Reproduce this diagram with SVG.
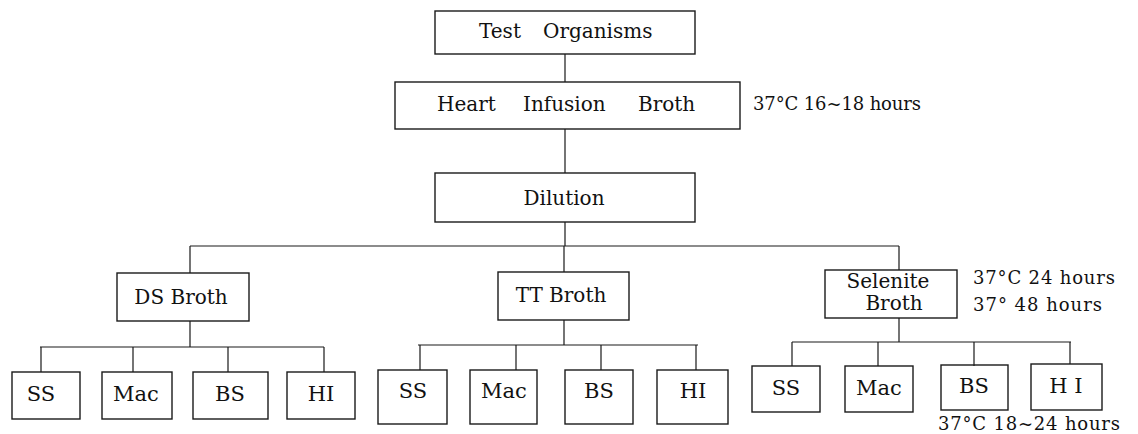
<svg xmlns="http://www.w3.org/2000/svg" width="1138" height="434" viewBox="0 0 1138 434">
<style>
.box{fill:none;stroke:#1a1a1a;stroke-width:1.4}
.ln{fill:none;stroke:#1a1a1a;stroke-width:1.2}
.t{font-family:"DejaVu Serif","Liberation Serif",serif;font-size:20px;fill:#111}
.s{font-size:21px}
.c{text-anchor:middle}
.a{font-family:"DejaVu Serif","Liberation Serif",serif;font-size:18px;fill:#111}
</style>
<rect width="1138" height="434" fill="#fff"/>
<g id="connectors">
<path class="ln" d="M565 54V82M565 129V173M565 222V246M190 246H899M190 246V273M564 246V272M899 246V270"/>
<path class="ln" d="M190 321V347M40 347H324M41 347V372M133 347V372M228 347V372M324 347V372"/>
<path class="ln" d="M564 320V345M418 345H698M420 345V370M516 345V370M601 345V370M696 345V370"/>
<path class="ln" d="M899 318V342M792 342H1071M792 342V366M878 342V366M974 342V366M1070 342V364"/>
</g>
<g id="test-organisms"><rect class="box" x="435" y="11" width="260" height="43"/><text class="t" y="38"><tspan x="479">Test</tspan><tspan x="543">Organisms</tspan></text></g>
<g id="heart-infusion-broth"><rect class="box" x="395" y="82" width="345" height="47"/><text class="t" y="111"><tspan x="437">Heart</tspan><tspan x="523">Infusion</tspan><tspan x="638">Broth</tspan></text></g>
<g id="note-hib"><text class="a" x="753" y="110" textLength="168">37°C 16~18 hours</text></g>
<g id="dilution"><rect class="box" x="435" y="173" width="260" height="49"/><text class="t c" x="564" y="205">Dilution</text></g>
<g id="ds-broth"><rect class="box" x="117" y="273" width="132" height="48"/><text class="t c" x="181" y="304">DS Broth</text></g>
<g id="tt-broth"><rect class="box" x="498" y="272" width="131" height="48"/><text class="t c" x="561" y="302">TT Broth</text></g>
<g id="selenite-broth"><rect class="box" x="825" y="270" width="132" height="48"/><text class="t c" x="888" y="288">Selenite</text><text class="t c" x="894" y="310">Broth</text></g>
<g id="note-sel"><text class="a" x="973" y="284" textLength="142">37°C 24 hours</text><text class="a" x="973" y="311" textLength="129">37° 48 hours</text></g>
<g id="ds-ss"><rect class="box" x="12" y="372" width="68" height="47"/><text class="t s c" x="41" y="401">SS</text></g>
<g id="ds-mac"><rect class="box" x="102" y="372" width="70" height="47"/><text class="t s c" x="136" y="401">Mac</text></g>
<g id="ds-bs"><rect class="box" x="193" y="372" width="75" height="47"/><text class="t s c" x="230" y="401">BS</text></g>
<g id="ds-hi"><rect class="box" x="287" y="372" width="68" height="47"/><text class="t s c" x="321" y="401">HI</text></g>
<g id="tt-ss"><rect class="box" x="378" y="370" width="69" height="54"/><text class="t s c" x="413" y="398">SS</text></g>
<g id="tt-mac"><rect class="box" x="470" y="370" width="67" height="54"/><text class="t s c" x="504" y="398">Mac</text></g>
<g id="tt-bs"><rect class="box" x="565" y="370" width="68" height="54"/><text class="t s c" x="599" y="398">BS</text></g>
<g id="tt-hi"><rect class="box" x="657" y="370" width="71" height="54"/><text class="t s c" x="693" y="398">HI</text></g>
<g id="sel-ss"><rect class="box" x="752" y="366" width="68" height="46"/><text class="t s c" x="786" y="395">SS</text></g>
<g id="sel-mac"><rect class="box" x="845" y="366" width="68" height="46"/><text class="t s c" x="879" y="395">Mac</text></g>
<g id="sel-bs"><rect class="box" x="941" y="365" width="67" height="45"/><text class="t s c" x="974" y="393">BS</text></g>
<g id="sel-hi"><rect class="box" x="1031" y="364" width="71" height="46"/><text class="t s c" x="1066" y="393">H I</text></g>
<g id="note-bs"><text class="a" x="938" y="430" font-size="19" textLength="182">37°C 18~24 hours</text></g>
</svg>
